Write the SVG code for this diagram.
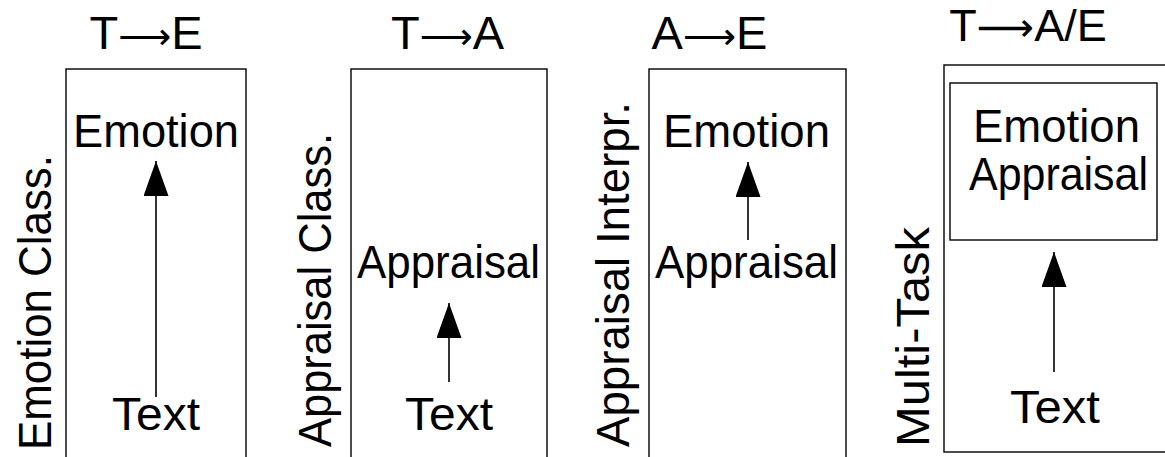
<svg xmlns="http://www.w3.org/2000/svg" width="1165" height="457" viewBox="0 0 1165 457">
<style>
.t{font-family:"Liberation Sans",Arial,sans-serif;font-size:46px;fill:#000;text-anchor:middle}
.h{font-size:47px}
.h4{font-size:45px}
.ar{font-family:"DejaVu Sans",sans-serif;font-size:37px}
.ar4{font-family:"DejaVu Sans",sans-serif;font-size:40px}
.box{fill:none;stroke:#000;stroke-width:1.4}
.arr{stroke:#000;stroke-width:1.6;fill:none;marker-end:url(#ah)}
</style>
<defs>
<marker id="ah" markerUnits="userSpaceOnUse" markerWidth="36" markerHeight="26" viewBox="0 0 36 26" refX="35" refY="12.5" orient="auto">
<path d="M0,0 L35,12.5 L0,25 z" fill="#000"/>
</marker>
</defs>
<rect width="1165" height="457" fill="#fff"/>
<g id="panel1">
<text class="t h" x="146" y="49">T<tspan class="ar">⟶</tspan>E</text>
<rect class="box" x="66" y="69" width="180" height="400"/>
<text class="t" transform="translate(51,302.5) rotate(-90)" textLength="295" lengthAdjust="spacingAndGlyphs">Emotion Class.</text>
<g id="p1-emotion"><text class="t" x="156" y="147" textLength="166" lengthAdjust="spacingAndGlyphs">Emotion</text></g>
<g id="p1-text"><text class="t" x="156" y="430" textLength="88" lengthAdjust="spacingAndGlyphs">Text</text></g>
</g>
<g id="panel2">
<text class="t h" x="447.5" y="49">T<tspan class="ar">⟶</tspan>A</text>
<rect class="box" x="351" y="69" width="196" height="400"/>
<text class="t" transform="translate(331,290) rotate(-90)" textLength="314" lengthAdjust="spacingAndGlyphs">Appraisal Class.</text>
<g id="p2-appraisal"><text class="t" x="448.5" y="278" textLength="183" lengthAdjust="spacingAndGlyphs">Appraisal</text></g>
<g id="p2-text"><text class="t" x="449" y="430" textLength="88" lengthAdjust="spacingAndGlyphs">Text</text></g>
</g>
<g id="panel3">
<text class="t h" x="709.5" y="49">A<tspan class="ar">⟶</tspan>E</text>
<rect class="box" x="649" y="69" width="197" height="400"/>
<text class="t" transform="translate(629,274.5) rotate(-90)" textLength="345" lengthAdjust="spacingAndGlyphs">Appraisal Interpr.</text>
<g id="p3-emotion"><text class="t" x="746.5" y="147" textLength="167" lengthAdjust="spacingAndGlyphs">Emotion</text></g>
<g id="p3-appraisal"><text class="t" x="746.5" y="278" textLength="183" lengthAdjust="spacingAndGlyphs">Appraisal</text></g>
</g>
<g id="panel4">
<text class="t h4" x="1028" y="41">T<tspan class="ar4">⟶</tspan>A/E</text>
<rect class="box" x="944" y="65" width="240" height="387"/>
<text class="t" transform="translate(929,337) rotate(-90)" textLength="220" lengthAdjust="spacingAndGlyphs">Multi-Task</text>
<g id="p4-output">
<rect class="box" x="950" y="83" width="207" height="157"/>
<text class="t" x="1056.5" y="142" textLength="167" lengthAdjust="spacingAndGlyphs">Emotion</text>
<text class="t" x="1058.5" y="190" textLength="179" lengthAdjust="spacingAndGlyphs">Appraisal</text>
</g>
<g id="p4-text"><text class="t" x="1055" y="423" textLength="90" lengthAdjust="spacingAndGlyphs">Text</text></g>
</g>
<g id="connectors">
<line class="arr" x1="156" y1="397" x2="156" y2="161"/>
<line class="arr" x1="449" y1="382" x2="449" y2="303"/>
<line class="arr" x1="748" y1="240" x2="748" y2="162"/>
<line class="arr" x1="1054" y1="372" x2="1054" y2="252"/>
</g>
</svg>
